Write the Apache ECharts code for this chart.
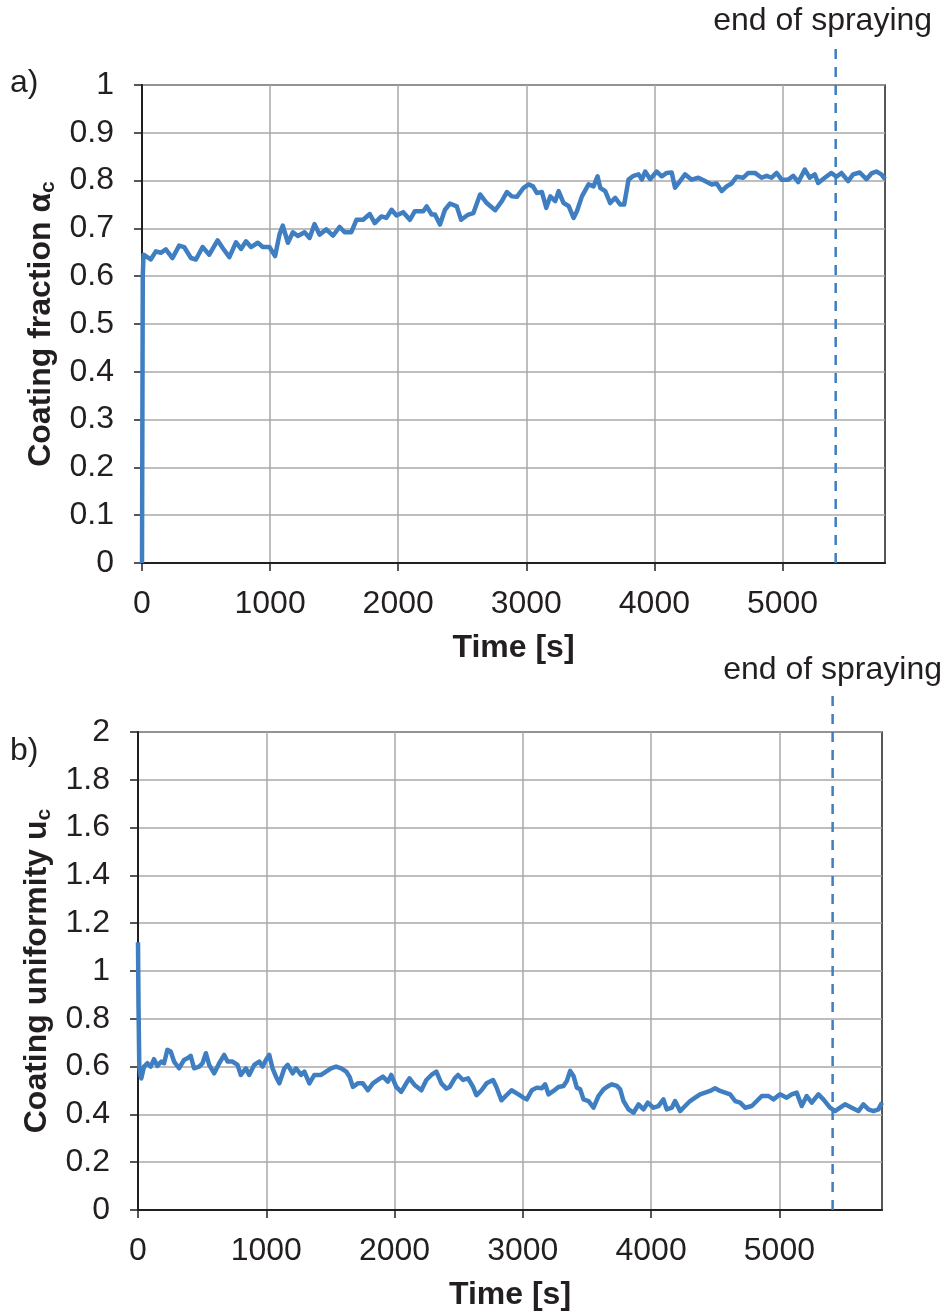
<!DOCTYPE html>
<html>
<head>
<meta charset="utf-8">
<script src="https://cdn.jsdelivr.net/npm/echarts@6/dist/echarts.min.js"></script>
<style>
  html, body { margin: 0; padding: 0; background: #fff; }
  #chart { width: 947px; height: 1312px; }
</style>
</head>
<body>
<div id="chart"></div>
<script>
// Panel a) coating fraction over time
const TIME_A = [
  0, 6, 12, 29, 68, 108, 147, 186, 238, 290,
  329, 382, 421, 473, 525, 590, 630, 682, 734, 773,
  812, 851, 904, 943, 995, 1039, 1073, 1099, 1139, 1178,
  1217, 1269, 1308, 1347, 1386, 1439, 1491, 1543, 1582, 1634,
  1674, 1726, 1778, 1817, 1869, 1908, 1948, 1987, 2039, 2091,
  2130, 2196, 2222, 2261, 2287, 2326, 2365, 2404, 2457, 2491,
  2548, 2587, 2639, 2691, 2757, 2809, 2848, 2887, 2926, 2979,
  3018, 3052, 3083, 3122, 3156, 3187, 3226, 3252, 3291, 3330,
  3369, 3395, 3434, 3486, 3525, 3556, 3577, 3616, 3655, 3694,
  3733, 3764, 3798, 3837, 3876, 3902, 3928, 3967, 4018, 4057,
  4096, 4135, 4161, 4200, 4239, 4291, 4343, 4395, 4447, 4486,
  4525, 4564, 4603, 4642, 4694, 4733, 4785, 4837, 4876, 4915,
  4954, 4993, 5045, 5084, 5123, 5174, 5213, 5252, 5278, 5330,
  5382, 5421, 5460, 5512, 5551, 5603, 5655, 5694, 5733, 5772,
  5800
];
const FRACTION_A = [
  0, 0.600, 0.645, 0.642, 0.635, 0.652, 0.649, 0.656, 0.638, 0.664,
  0.661, 0.638, 0.635, 0.661, 0.645, 0.675, 0.659, 0.640, 0.671, 0.657,
  0.673, 0.661, 0.670, 0.661, 0.661, 0.642, 0.687, 0.706, 0.670, 0.692,
  0.684, 0.692, 0.680, 0.709, 0.687, 0.698, 0.685, 0.703, 0.692, 0.692,
  0.718, 0.718, 0.730, 0.711, 0.725, 0.722, 0.739, 0.727, 0.734, 0.718,
  0.736, 0.736, 0.746, 0.729, 0.729, 0.708, 0.739, 0.752, 0.746, 0.718,
  0.729, 0.732, 0.771, 0.753, 0.738, 0.757, 0.776, 0.767, 0.766, 0.785,
  0.792, 0.788, 0.774, 0.776, 0.743, 0.767, 0.757, 0.778, 0.753, 0.747,
  0.722, 0.736, 0.767, 0.792, 0.788, 0.809, 0.785, 0.778, 0.753, 0.764,
  0.750, 0.750, 0.802, 0.810, 0.813, 0.802, 0.819, 0.803, 0.819, 0.809,
  0.816, 0.817, 0.785, 0.799, 0.813, 0.802, 0.806, 0.799, 0.792, 0.794,
  0.778, 0.788, 0.794, 0.808, 0.806, 0.816, 0.816, 0.806, 0.810, 0.806,
  0.816, 0.802, 0.802, 0.810, 0.797, 0.823, 0.806, 0.813, 0.795, 0.806,
  0.816, 0.808, 0.816, 0.799, 0.813, 0.817, 0.803, 0.815, 0.819, 0.813,
  0.803
];

// Panel b) coating uniformity over time
const TIME_B = [
  0, 4, 10, 20, 26, 47, 73, 99, 125, 151,
  182, 203, 229, 255, 281, 320, 359, 385, 411, 437,
  477, 503, 529, 555, 594, 633, 672, 698, 737, 776,
  802, 841, 867, 906, 945, 971, 997, 1023, 1049, 1076,
  1102, 1141, 1167, 1206, 1232, 1271, 1297, 1336, 1375, 1427,
  1466, 1505, 1544, 1584, 1623, 1649, 1675, 1714, 1753, 1792,
  1831, 1870, 1909, 1948, 1974, 2013, 2052, 2091, 2117, 2156,
  2209, 2248, 2287, 2326, 2365, 2404, 2430, 2469, 2495, 2534,
  2573, 2612, 2638, 2678, 2717, 2768, 2794, 2833, 2872, 2912,
  2966, 3005, 3031, 3070, 3109, 3148, 3174, 3200, 3239, 3278,
  3317, 3343, 3369, 3395, 3421, 3447, 3473, 3512, 3551, 3590,
  3629, 3668, 3694, 3733, 3759, 3785, 3824, 3863, 3902, 3941,
  3974, 4018, 4057, 4096, 4122, 4161, 4187, 4226, 4265, 4304,
  4343, 4382, 4421, 4460, 4499, 4538, 4577, 4616, 4655, 4694,
  4733, 4785, 4824, 4863, 4915, 4954, 5005, 5057, 5096, 5135,
  5174, 5213, 5252, 5304, 5343, 5395, 5434, 5473, 5512, 5564,
  5616, 5655, 5694, 5733, 5772, 5800
];
const UNIFORMITY_B = [
  1.12, 0.85, 0.60, 0.56, 0.551, 0.600, 0.614, 0.600, 0.631, 0.603,
  0.621, 0.614, 0.670, 0.663, 0.621, 0.593, 0.628, 0.635, 0.645, 0.593,
  0.600, 0.614, 0.656, 0.607, 0.572, 0.614, 0.649, 0.621, 0.621, 0.607,
  0.565, 0.593, 0.565, 0.607, 0.621, 0.600, 0.628, 0.649, 0.593, 0.558,
  0.530, 0.593, 0.607, 0.572, 0.593, 0.565, 0.579, 0.530, 0.565, 0.565,
  0.579, 0.593, 0.600, 0.593, 0.579, 0.558, 0.515, 0.530, 0.530, 0.501,
  0.530, 0.544, 0.558, 0.537, 0.565, 0.515, 0.494, 0.530, 0.551, 0.523,
  0.501, 0.544, 0.565, 0.579, 0.530, 0.508, 0.515, 0.551, 0.565, 0.544,
  0.551, 0.515, 0.480, 0.501, 0.530, 0.544, 0.515, 0.459, 0.480, 0.501,
  0.484, 0.470, 0.463, 0.501, 0.512, 0.509, 0.526, 0.484, 0.498, 0.515,
  0.519, 0.540, 0.582, 0.561, 0.512, 0.505, 0.463, 0.456, 0.428, 0.477,
  0.505, 0.519, 0.526, 0.519, 0.505, 0.456, 0.421, 0.407, 0.442, 0.421,
  0.449, 0.428, 0.435, 0.463, 0.421, 0.428, 0.456, 0.414, 0.435, 0.456,
  0.470, 0.484, 0.491, 0.498, 0.509, 0.498, 0.491, 0.484, 0.456, 0.449,
  0.428, 0.435, 0.456, 0.477, 0.477, 0.463, 0.484, 0.470, 0.484, 0.491,
  0.435, 0.477, 0.449, 0.484, 0.463, 0.428, 0.414, 0.428, 0.442, 0.428,
  0.414, 0.442, 0.421, 0.414, 0.421, 0.449
];

// Axis ticks and the end-of-spraying marker
const TIME_TICKS = [0, 1000, 2000, 3000, 4000, 5000];
const TIME_MAX = 5800;
const END_OF_SPRAYING = 5415;
const MARKER_LABEL = 'end of spraying';
const MARKER_TOP_A = 1.09;   // dashed marker extends a little above panel a)
const MARKER_TOP_B = 2.17;   // and above panel b)

const zip = (xs, ys) => xs.map((x, i) => [x, ys[i]]);

const INK = '#231F20';
const BLUE = '#3E7EC1';
const FONT = "'Liberation Sans', Arial, Helvetica, sans-serif";
const FS = 32;

function xAxisFor(gridIndex) {
  return {
    type: 'value', gridIndex, min: 0, max: TIME_MAX, interval: 1000,
    name: 'Time [s]', nameLocation: 'middle', nameGap: 69,
    nameTextStyle: { fontFamily: FONT, fontSize: FS, fontWeight: 'bold', color: INK },
    axisLine: { onZero: false, lineStyle: { color: INK, width: 2 } },
    axisTick: { show: true, inside: false, length: 8, customValues: TIME_TICKS, lineStyle: { color: INK, width: 1.5 } },
    axisLabel: { customValues: TIME_TICKS, margin: 25,
      fontFamily: FONT, fontSize: FS, color: INK, formatter: v => String(v) },
    splitLine: { show: true, lineStyle: { color: '#A8A8A8', width: 1.5 } }
  };
}

function yAxisFor(gridIndex, max, interval, name, gap) {
  return {
    type: 'value', gridIndex, min: 0, max, interval,
    name, nameLocation: 'middle', nameRotate: 90, nameGap: gap,
    nameTextStyle: {
      fontFamily: FONT, fontSize: FS, fontWeight: 'bold', color: INK,
      rich: {
        m: { fontFamily: FONT, fontSize: FS, fontWeight: 'bold', color: INK },
        s: { fontFamily: FONT, fontSize: 21, fontWeight: 'bold', color: INK, padding: [14, 0, 0, 0] }
      }
    },
    axisLine: { onZero: false, lineStyle: { color: INK, width: 2 } },
    axisTick: { show: true, inside: false, length: 8, lineStyle: { color: INK, width: 1.5 } },
    axisLabel: { margin: 28, fontFamily: FONT, fontSize: FS, color: INK,
      formatter: v => String(Math.round(v * 10) / 10) },
    splitLine: { show: true, lineStyle: { color: '#A8A8A8', width: 1.5 } }
  };
}

function markerSeries(axisIndex, top, offsetX) {
  return {
    type: 'line', xAxisIndex: axisIndex, yAxisIndex: axisIndex,
    clip: false, silent: true, z: 5,
    symbol: 'circle', symbolSize: 0.1, showSymbol: true,
    lineStyle: { color: BLUE, width: 2.5, type: [10, 8] },
    itemStyle: { color: BLUE },
    data: [
      [END_OF_SPRAYING, 0],
      { value: [END_OF_SPRAYING, top],
        label: { show: true, position: 'top', distance: 5, offset: [offsetX, 0],
          formatter: MARKER_LABEL, fontFamily: FONT, fontSize: FS, color: INK } }
    ]
  };
}

const chart = echarts.init(document.getElementById('chart'), null, { renderer: 'canvas' });

chart.setOption({
  animation: false,
  backgroundColor: '#ffffff',
  textStyle: { fontFamily: FONT },
  grid: [
    { left: 142, top: 85, width: 743, height: 478, show: true, borderColor: INK, borderWidth: 1.5, backgroundColor: 'transparent' },
    { left: 138, top: 732, width: 744, height: 478, show: true, borderColor: INK, borderWidth: 1.5, backgroundColor: 'transparent' }
  ],
  xAxis: [xAxisFor(0), xAxisFor(1)],
  yAxis: [
    yAxisFor(0, 1, 0.1, '{m|Coating fraction α}{s|c}', 77),
    yAxisFor(1, 2, 0.2, '{m|Coating uniformity u}{s|c}', 74)
  ],
  graphic: [
    { type: 'text', left: 10, top: 67, style: { text: 'a)', fontFamily: FONT, fontSize: FS, fill: INK } },
    { type: 'text', left: 10, top: 735, style: { text: 'b)', fontFamily: FONT, fontSize: FS, fill: INK } }
  ],
  series: [
    {
      type: 'line', xAxisIndex: 0, yAxisIndex: 0, showSymbol: false, z: 3,
      lineStyle: { color: BLUE, width: 4.5, join: 'round' },
      data: zip(TIME_A, FRACTION_A)
    },
    {
      type: 'line', xAxisIndex: 1, yAxisIndex: 1, showSymbol: false, z: 3,
      lineStyle: { color: BLUE, width: 4.5, join: 'round' },
      data: zip(TIME_B, UNIFORMITY_B)
    },
    markerSeries(0, MARKER_TOP_A, -13),
    markerSeries(1, MARKER_TOP_B, 0)
  ]
});
</script>
</body>
</html>
